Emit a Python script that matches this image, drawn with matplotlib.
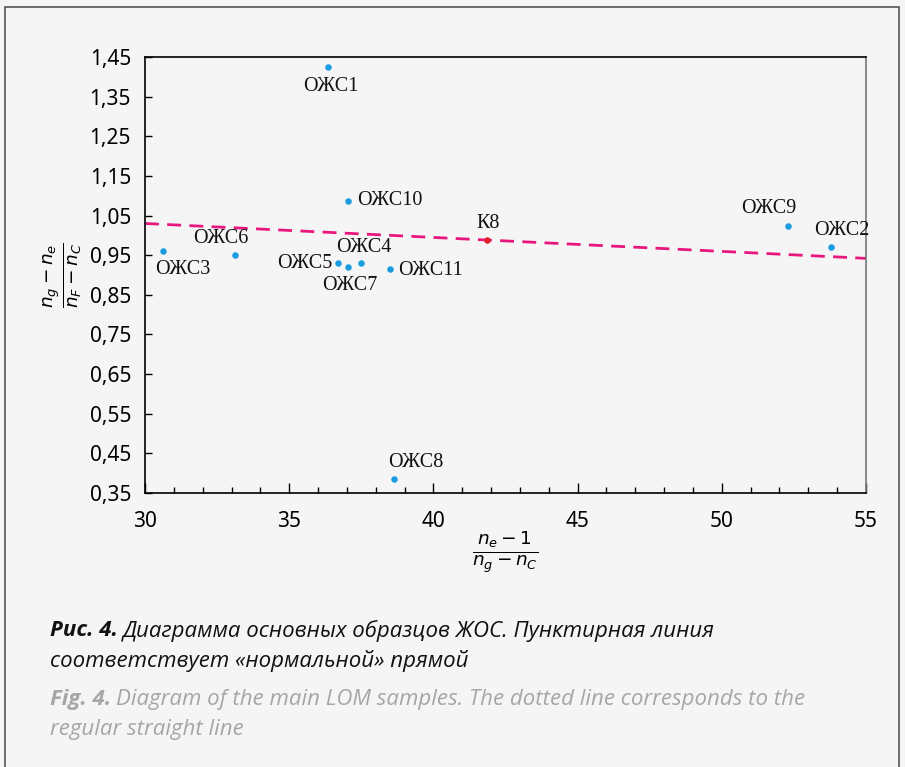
import numpy as np
import matplotlib.pyplot as plt
from matplotlib.patches import Rectangle
from matplotlib.ticker import MultipleLocator, FuncFormatter

# data
names = ['ОЖС1', 'ОЖС10', 'ОЖС3', 'ОЖС6', 'ОЖС5', 'ОЖС7', 'ОЖС4',
         'ОЖС11', 'ОЖС9', 'ОЖС2', 'ОЖС8']
x_vals = [36.35, 37.04, 30.62, 33.12, 36.69, 37.04, 37.49, 38.50, 52.30, 53.79, 38.63]
y_vals = [1.425, 1.087, 0.961, 0.951, 0.930, 0.920, 0.930, 0.915, 1.024, 0.971, 0.385]
k8_x, k8_y = 41.86, 0.988
line_x = [30, 55]
line_y = [1.030, 0.942]

# label placement (offset in pixels, ha)
offsets = {
    'ОЖС1': (3, -20, 'center'), 'ОЖС10': (9, 0, 'left'), 'ОЖС3': (20, -19, 'center'),
    'ОЖС6': (-14, 16, 'center'), 'ОЖС5': (-6, 0, 'right'), 'ОЖС7': (2, -18, 'center'),
    'ОЖС4': (3, 16, 'center'), 'ОЖС11': (8, -1, 'left'), 'ОЖС9': (-19, 17, 'center'),
    'ОЖС2': (11, 16, 'center'), 'ОЖС8': (22, 17, 'center'),
}

bg = '#f5f5f5'
fig = plt.figure(figsize=(9.05, 7.67), dpi=100, facecolor=bg)
fig.patches.append(Rectangle((5/905, -0.01), 894/905, 1 - 7/767 + 0.01, transform=fig.transFigure,
                             fill=False, edgecolor='#555555', lw=1.2))

ax = fig.add_axes([145/905, 1 - 493/767, 721/905, 436/767])
ax.set_facecolor(bg)
ax.set_xlim(30, 55)
ax.set_ylim(0.35, 1.45)

ax.plot(line_x, line_y, color='#e8177d', lw=2, ls=(0, (5, 3)), zorder=2)
ax.scatter(x_vals, y_vals, s=22, color='#1a9de0', zorder=3, linewidths=0)
ax.scatter([k8_x], [k8_y], s=22, color='#e0202a', zorder=3, linewidths=0)

for n, x, y in zip(names, x_vals, y_vals):
    dx, dy, ha = offsets[n]
    ax.annotate(n, (x, y), xytext=(dx, dy), textcoords='offset pixels', ha=ha, va='center',
                fontsize=14.5, family='Liberation Serif', color='#111111')
ax.annotate('К8', (k8_x, k8_y), xytext=(1, 17), textcoords='offset pixels', ha='center',
            va='center', fontsize=14.5, family='Liberation Serif', color='#111111')

ax.xaxis.set_major_locator(MultipleLocator(5))
ax.xaxis.set_minor_locator(MultipleLocator(1))
ax.yaxis.set_major_locator(MultipleLocator(0.1, offset=0.05))
ax.yaxis.set_major_formatter(FuncFormatter(lambda v, p: f'{v:.2f}'.replace('.', ',')))
ax.xaxis.set_major_formatter(FuncFormatter(lambda v, p: f'{v:.0f}'))
ax.tick_params(direction='in', which='major', length=7, width=1, labelsize=15, pad=13)
ax.tick_params(direction='in', which='minor', length=4, width=1)
ax.tick_params(axis='y', length=5, pad=10)
for lab in ax.get_xticklabels() + ax.get_yticklabels():
    lab.set_family('Noto Sans')
for s in ax.spines.values():
    s.set_linewidth(1.2)
ax.spines['right'].set_color('#777777')

ax.set_xlabel(r'$\frac{n_e - 1}{n_g - n_C}$', fontsize=19, labelpad=-2)
ax.set_ylabel(r'$\frac{n_g - n_e}{n_F - n_C}$', fontsize=19, labelpad=4)

cap = dict(fontsize=16, style='italic', family='Open Sans', va='center')
rows = [
    ('Рис. 4.', 'Диаграмма основных образцов ЖОС. Пунктирная линия', 631, '#111111'),
    (None, 'соответствует «нормальной» прямой', 661, '#111111'),
    ('Fig. 4.', 'Diagram of the main LOM samples. The dotted line corresponds to the', 700, '#a6a6a6'),
    (None, 'regular straight line', 730, '#a6a6a6'),
]
renderer = fig.canvas.get_renderer()
for bold, rest, ypix, col in rows:
    x0 = 50
    if bold:
        t = fig.text(x0/905, 1 - ypix/767, bold, weight='bold', color=col, **cap)
        x0 = t.get_window_extent(renderer).x1 + 5
    fig.text(x0/905, 1 - ypix/767, rest, color=col, **cap)

plt.savefig('out.png', dpi=100, facecolor=bg)
